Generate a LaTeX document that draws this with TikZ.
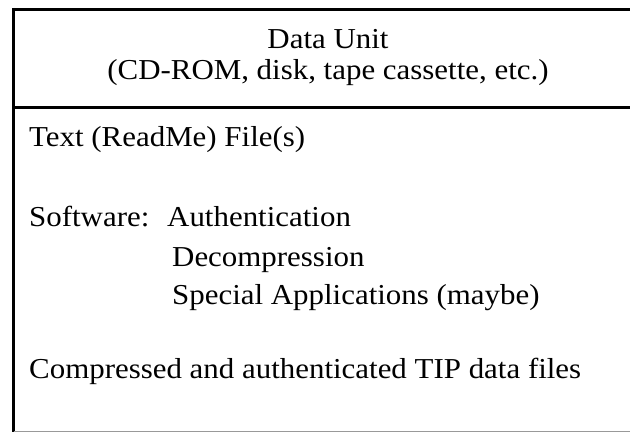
\documentclass[tikz,border=0pt]{standalone}
\usepackage{fontspec}
\setmainfont{Liberation Serif}[FakeStretch=1.07]
\usepackage{tikz}

\tikzset{
	line/.style={inner sep=0pt, anchor=base west, font=\fontsize{29}{31}\selectfont},
	head/.style={inner sep=0pt, anchor=base, font=\fontsize{29}{31}\selectfont}
}

\begin{document}
\begin{tikzpicture}[x=1bp, y=-1bp]
			\useasboundingbox (0,0) rectangle (630,434);
			\clip (0,0) rectangle (630,434);
			\node[head] (unit) at (328,49) {Data Unit};
			\node[head] (media) at (328,80) {(CD-ROM, disk, tape cassette, etc.)};
			\node[line] (readme) at (29,147) {Text (ReadMe) File(s)};
			\node[line] (soft) at (29,227) {Software:};
			\node[line] (auth) at (167,227) {Authentication};
			\node[line] (decomp) at (172,267) {Decompression};
			\node[line] (special) at (172,305) {Special Applications (maybe)};
			\node[line] (tip) at (29,378) {Compressed and authenticated TIP data files};
			\draw[line width=3bp] (13.5,9.5) -- (640,9.5);
			\draw[line width=3bp] (13.5,108) -- (640,108);
			\draw[line width=3bp] (13.5,8) -- (13.5,432);
			\draw[line width=1bp, black!40] (13.5,431.5) -- (640,431.5);
		\end{tikzpicture}
\end{document}
